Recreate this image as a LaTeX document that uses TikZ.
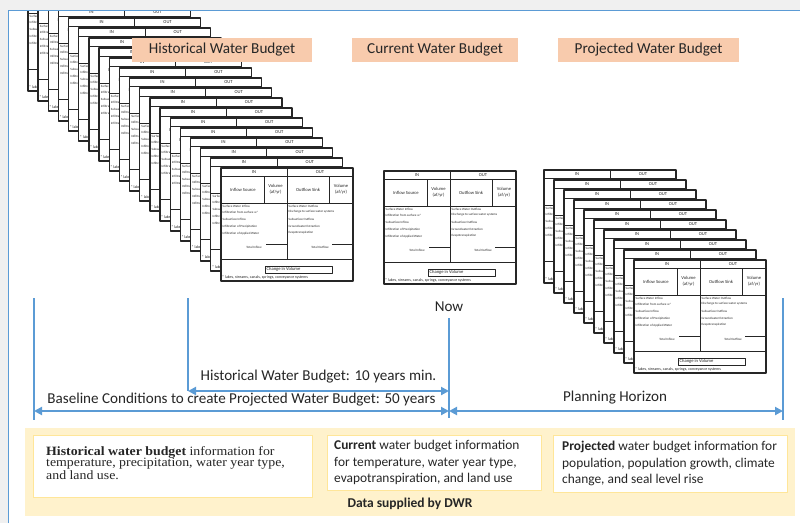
\documentclass[tikz,border=0pt]{standalone}
\usepackage{fontspec}
\newfontfamily\calibri{Carlito}
\newfontfamily\cambria{Liberation Serif}[FakeStretch=1.09]
\usetikzlibrary{arrows.meta}

\definecolor{waterblue}{HTML}{5B9BD5}
\definecolor{peach}{HTML}{F8CBAD}
\definecolor{cream}{HTML}{FFF2CC}
\definecolor{goldline}{HTML}{FFE699}
\definecolor{ink}{HTML}{262626}

\tikzset{
    sheetbody/.style={font=\calibri\fontsize{3.2}{3.8}\selectfont, inner sep=0pt, text=ink},
    sheethead/.style={font=\calibri\fontsize{4.6}{5.6}\selectfont, inner sep=0pt, text=ink, align=center},
    titlebox/.style={fill=peach, minimum height=24pt, inner sep=0pt, text=ink,
        font=\calibri\fontsize{15.2}{17}\selectfont},
    timeline/.style={waterblue, line width=2pt},
    span/.style={timeline, {Triangle[length=8pt,width=8pt]}-{Triangle[length=8pt,width=8pt]}},
    timelabel/.style={inner sep=0pt, text=ink, font=\calibri\fontsize{15.1}{17}\selectfont},
    infobox/.style={fill=white, draw=goldline, line width=0.8pt, anchor=north west, inner sep=0pt},
    infotext/.style={anchor=north west, inner sep=0pt, align=left, text=ink,
        font=\calibri\fontsize{13.4}{16.5}\selectfont},
    budgetsheet/.pic={
        % fond et lignes du tableau
        \fill[white] (0,0) rectangle (132,113);
        \draw[ink, line width=0.5pt] (0,8) -- (132,8) (0,35) -- (132,35) (0,91) -- (132,91)
            (66,0) -- (66,91) (43,8) -- (43,35) (108,8) -- (108,35)
            (45,76) -- (66,76) (111,76) -- (132,76);
        \draw[ink, line width=0.5pt] (44,98) rectangle (111,105);
        \draw[ink, line width=1.3pt] (0,0) rectangle (132,113);
        % textes
        \node[sheethead] (-in) at (33,4) {IN};
        \node[sheethead] (-out) at (99,4) {OUT};
        \node[sheethead] (-src) at (22,21.5) {Inflow Source};
        \node[sheethead] (-vin) at (54.5,21.5) {Volume\\(af/yr)};
        \node[sheethead] (-sink) at (87,21.5) {Outflow Sink};
        \node[sheethead] (-vout) at (120,21.5) {Volume\\(af/yr)};
        \node[sheetbody, anchor=west] (-l1) at (1.5,38) {Surface Water Inflow};
        \node[sheetbody, anchor=west] (-l2) at (1.5,44) {Infiltration from surface w*};
        \node[sheetbody, anchor=west] (-l3) at (1.5,51.5) {Subsurface Inflow};
        \node[sheetbody, anchor=west] (-l4) at (1.5,58.5) {Infiltration of Precipitation};
        \node[sheetbody, anchor=west] (-l5) at (1.5,65.5) {Infiltration of Applied Water};
        \node[sheetbody, anchor=west] (-r1) at (67.5,38) {Surface Water Outflow};
        \node[sheetbody, anchor=west] (-r2) at (67.5,44) {Discharge to surface water systems};
        \node[sheetbody, anchor=west] (-r3) at (67.5,51) {Subsurface Outflow};
        \node[sheetbody, anchor=west] (-r4) at (67.5,58) {Groundwater Extraction};
        \node[sheetbody, anchor=west] (-r5) at (67.5,65) {Evapotranspiration};
        \node[sheetbody] (-tin) at (33,79) {Total Inflow};
        \node[sheetbody] (-tout) at (99,79) {Total Outflow};
        \node[sheethead, anchor=west] (-chg) at (45.5,101.5) {Change in Volume};
        \node[sheetbody, anchor=west, font=\calibri\fontsize{4}{4.5}\selectfont] (-note) at (1,109.5)
            {* lakes, streams, canals, springs, conveyance systems};
    }
}

\begin{document}
\begin{tikzpicture}[x=1pt, y=-1pt, line join=round]
\useasboundingbox (0,0) rectangle (800,523);

% fond et cadre
\fill[gray!12] (0,0) rectangle (800,523);
\fill[white] (8,10) rectangle (800,523);

% pile historique
\begin{scope}
    \clip (9,11) rectangle (800,523);
    \foreach \k in {19,18,...,0}
        \pic (hist\k) at ({221-\k*10.16},{168-\k*10}) {budgetsheet};
\end{scope}

% budget actuel
\pic (curr) at (384,171) {budgetsheet};

% pile projetee
\foreach \k in {9,8,...,0}
    \pic (proj\k) at ({634-\k*10},{260-\k*10}) {budgetsheet};

\draw[waterblue, line width=1pt] (8,523) -- (8,10) -- (800,10);

% titres
\node[titlebox, minimum width=180pt] (histtitle) at (222,50) {Historical Water Budget};
\node[titlebox, minimum width=166pt] (currtitle) at (435,50) {Current Water Budget};
\node[titlebox, minimum width=181pt] (projtitle) at (648.5,50) {Projected Water Budget};

% ligne du temps
\coordinate (baseTop) at (34,298);
\coordinate (baseEnd) at (34,420);
\coordinate (histTop) at (188,298);
\coordinate (histA) at (188,391);
\coordinate (nowTop) at (449,318);
\coordinate (nowA) at (449,391);
\coordinate (nowB) at (449,411);
\coordinate (nowEnd) at (449,418);
\coordinate (baseA) at (34,411);
\coordinate (planTop) at (783,298);
\coordinate (planA) at (783,411);
\coordinate (planEnd) at (783,420);

\draw[timeline] (baseTop) -- (baseEnd);
\draw[timeline] (histTop) -- (histA);
\draw[timeline] (nowTop) -- (nowEnd);
\draw[timeline] (planTop) -- (planEnd);

\draw[span] (histA) -- (nowA);
\draw[span] (baseA) -- (nowB);
\draw[span] (nowB) -- (planA);

\node[timelabel] (now) at (449,307) {Now};
\node[timelabel] (histspan) at (318.5,377) {Historical Water Budget: 10 years min.};
\node[timelabel] (basespan) at (241.5,400) {Baseline Conditions to create Projected Water Budget: 50 years};
\node[timelabel] (planspan) at (615,398) {Planning Horizon};

% donnees DWR
\fill[cream] (25,428) rectangle (795,516);

\node[infobox, minimum width=279pt, minimum height=62pt] (histbox) at (33,435) {};
\node[infotext, font=\cambria\fontsize{12.7}{11.4}\selectfont] (histtext)
    at ([xshift=13pt,yshift=-11pt]histbox.north west)
    {\textbf{Historical water budget} information for\\
     temperature, precipitation, water year type,\\
     and land use.};

\node[infobox, minimum width=214pt, minimum height=55pt] (currbox) at (327,435) {};
\node[infotext] (currtext) at ([xshift=7pt,yshift=-5pt]currbox.north west)
    {\textbf{Current} water budget information\\
     for temperature, water year type,\\
     evapotranspiration, and land use};

\node[infobox, minimum width=234pt, minimum height=57pt] (projbox) at (553,435) {};
\node[infotext] (projtext) at ([xshift=9pt,yshift=-6pt]projbox.north west)
    {\textbf{Projected} water budget information for\\
     population, population growth, climate\\
     change, and seal level rise};

\node[timelabel, font=\calibri\bfseries\fontsize{13.5}{15}\selectfont] (dwr) at (410,504) {Data supplied by DWR};

\end{tikzpicture}
\end{document}
